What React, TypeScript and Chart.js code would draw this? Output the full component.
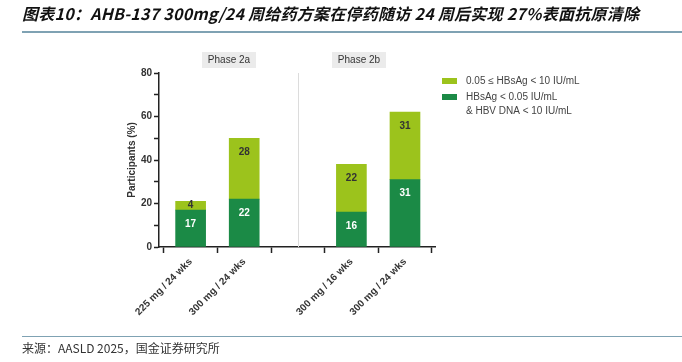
import React, { useEffect, useRef } from "react";
import { Chart, registerables } from "chart.js";

Chart.register(...registerables);

const titleText = "图表10：AHB-137 300mg/24 周给药方案在停药随访 24 周后实现 27%表面抗原清除";
const sourceText = "来源：AASLD 2025，国金证券研究所";
const categories = ["225 mg / 24 wks", "300 mg / 24 wks", "", "300 mg / 16 wks", "300 mg / 24 wks"];
const undetectableValues = [17, 22, null, 16, 31];
const lowValues = [4, 28, null, 22, 31];
const lowLabel = ["0.05 ≤ HBsAg < 10 IU/mL"];
const undetectableLabel = ["HBsAg < 0.05 IU/mL", "& HBV DNA < 10 IU/mL"];
const phaseLabels = ["Phase 2a", "Phase 2b"];
const yTitle = "Participants (%)";

const DARK = "#1b8a46";
const LIGHT = "#9cc31c";
const FONT = "'Liberation Sans', Arial, sans-serif";

const toPoints = (arr: (number | null)[]) =>
  arr.map((v, i) => ({ x: i, y: v })).filter((p) => p.y != null);

const overlayPlugin = {
  id: "overlay",
  beforeDatasetsDraw(chart: any) {
    const { ctx, chartArea, scales } = chart;
    const x = scales.x.getPixelForValue(2);
    ctx.save();
    ctx.strokeStyle = "#dcdcdc";
    ctx.lineWidth = 1;
    ctx.beginPath();
    ctx.moveTo(Math.round(x) + 0.5, chartArea.top);
    ctx.lineTo(Math.round(x) + 0.5, chartArea.bottom);
    ctx.stroke();
    ctx.restore();
  },
  afterDatasetsDraw(chart: any) {
    const { ctx, chartArea } = chart;
    ctx.save();
    ctx.font = `bold 10px ${FONT}`;
    ctx.textAlign = "center";
    ctx.textBaseline = "middle";
    chart.data.datasets.forEach((ds: any, di: number) => {
      const meta = chart.getDatasetMeta(di);
      meta.data.forEach((bar: any, i: number) => {
        const v = ds.data[i].y;
        if (v == null) return;
        const top = Math.min(bar.y, bar.base);
        const h = Math.abs(bar.base - bar.y);
        ctx.fillStyle = di === 0 ? "#ffffff" : "#333333";
        ctx.fillText(String(v), bar.x, top + Math.min(14, h / 2));
      });
    });
    const w = chartArea.right - chartArea.left;
    const fr = [0.2536, 0.7246];
    ctx.font = `10px ${FONT}`;
    phaseLabels.forEach((p, i) => {
      const cx = chartArea.left + fr[i] * w;
      const cy = 60;
      ctx.fillStyle = "#ebebeb";
      ctx.fillRect(cx - 27, cy - 8, 54, 16);
      ctx.fillStyle = "#333333";
      ctx.fillText(p, cx, cy);
    });
    const items = [
      { color: LIGHT, lines: lowLabel },
      { color: DARK, lines: undetectableLabel },
    ];
    let y = 81;
    ctx.textAlign = "left";
    ctx.font = `10px ${FONT}`;
    items.forEach((it) => {
      ctx.fillStyle = it.color;
      ctx.fillRect(442, y - 3, 15, 6);
      ctx.fillStyle = "#444444";
      it.lines.forEach((l, k) => {
        ctx.fillText(l, 466, y + k * 14);
      });
      y += 16;
    });
    ctx.restore();
  },
};

export default function App() {
  const ref = useRef<HTMLCanvasElement>(null);
  useEffect(() => {
    if (!ref.current) return;
    const chart = new Chart(ref.current, {
      type: "bar",
      data: {
        datasets: [
          { label: undetectableLabel.join(" "), data: toPoints(undetectableValues) as any, backgroundColor: DARK, barThickness: 30 },
          { label: lowLabel.join(" "), data: toPoints(lowValues) as any, backgroundColor: LIGHT, barThickness: 30 },
        ],
      },
      options: {
        responsive: false,
        animation: false,
        layout: { padding: { left: 122, right: 247, top: 73, bottom: 45 } },
        plugins: { legend: { display: false }, tooltip: { enabled: false } },
        scales: {
          x: {
            type: "linear",
            stacked: true,
            min: -0.59,
            max: 4.56,
            offset: false,
            afterFit: (s: any) => { s.height = 70; },
            afterBuildTicks: (s: any) => { s.ticks = categories.map((_, i) => ({ value: i })); },
            grid: { drawOnChartArea: false, tickLength: 6, color: "#222", tickWidth: 1.5 },
            border: { color: "#222", width: 1.5 },
            ticks: {
              minRotation: 45,
              maxRotation: 45,
              autoSkip: false,
              color: "#333",
              font: { family: FONT, size: 10, weight: "bold" },
              callback: (v: any) => categories[Math.round(Number(v))] ?? "",
            },
          },
          y: {
            stacked: true,
            min: 0,
            max: 80,
            afterFit: (s: any) => { s.width = 37; },
            grid: { drawOnChartArea: false, tickLength: 5, color: "#222", tickWidth: 1.5 },
            border: { color: "#222", width: 1.5 },
            ticks: {
              stepSize: 10,
              color: "#333",
              padding: 2,
              font: { family: FONT, size: 10, weight: "bold" },
              callback: (v: any) => (Number(v) % 20 === 0 ? String(v) : ""),
            },
            title: { display: true, text: yTitle, color: "#333", padding: 4, font: { family: FONT, size: 10, weight: "bold" } },
          },
        },
      },
      plugins: [overlayPlugin],
    });
    return () => chart.destroy();
  }, []);

  return (
    <div style={{ position: "fixed", left: 0, top: 0, width: 682, height: 362, background: "#fff", overflow: "hidden" }}>
      <canvas ref={ref} width={682} height={362} style={{ position: "absolute", left: 0, top: 0 }} />
      <div style={{ position: "absolute", left: 22, top: 3, fontFamily: "'Noto Sans CJK SC', sans-serif", fontWeight: "bold", fontStyle: "italic", fontSize: 16, letterSpacing: 0.25, color: "#111", whiteSpace: "nowrap", lineHeight: "20px" }}>
        {titleText}
      </div>
      <div style={{ position: "absolute", left: 22, right: 0, top: 31, height: 1.5, background: "#7fa2b3" }} />
      <div style={{ position: "absolute", left: 22, right: 0, top: 336, height: 1, background: "#7fa2b3" }} />
      <div style={{ position: "absolute", left: 22, top: 340, fontFamily: "'Noto Sans CJK SC', sans-serif", fontSize: 12, color: "#333", whiteSpace: "nowrap", lineHeight: "16px" }}>
        {sourceText}
      </div>
    </div>
  );
}
